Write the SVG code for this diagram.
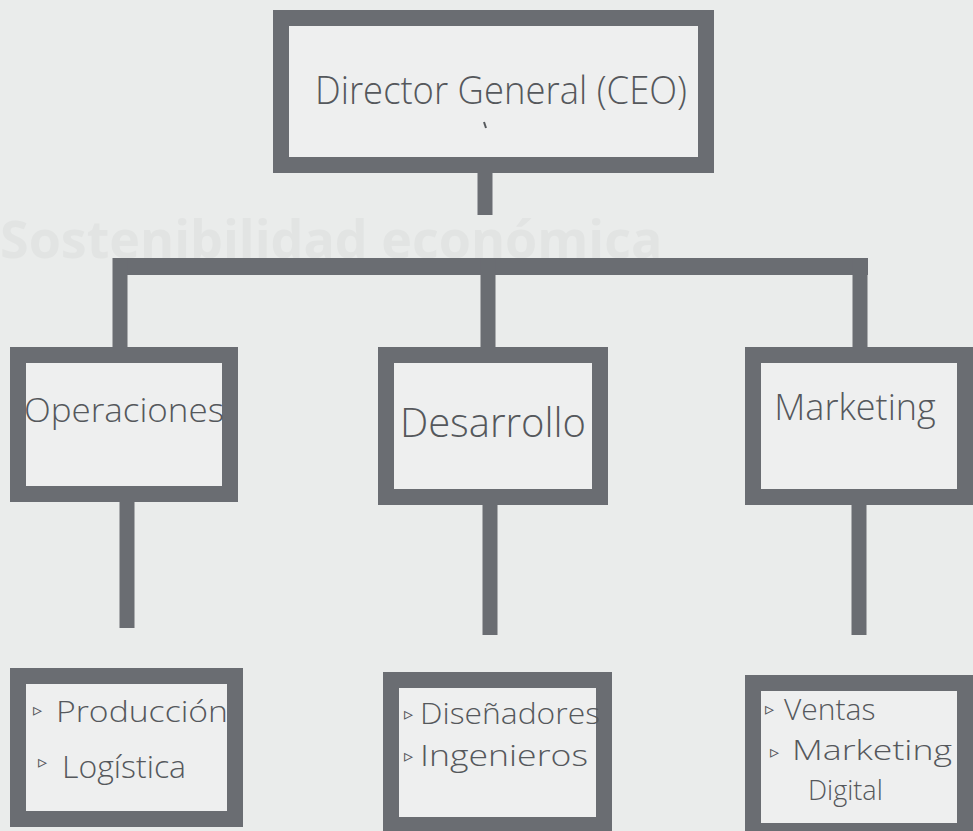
<svg xmlns="http://www.w3.org/2000/svg" width="973" height="831" viewBox="0 0 973 831">
<defs>
<style>
.box{fill:#eeefef;stroke:#6a6d72;stroke-width:16}
.con{stroke:#6a6d72;stroke-width:15;fill:none}
.bar{fill:#6a6d72}
.t{font-family:"Open Sans","DejaVu Sans",sans-serif;font-weight:300;fill:#55585c}
.b{font-family:"DejaVu Sans",sans-serif;fill:#55585c}
.ghost{font-family:"Open Sans","Liberation Sans",sans-serif;font-weight:700;fill:#e2e4e3}
</style>
</defs>
<rect x="0" y="0" width="973" height="831" fill="#eaeceb"/>
<text class="ghost" x="0" y="258" font-size="52">Sostenibilidad económica</text>
<g id="connectors">
<line class="con" x1="485" y1="173" x2="485" y2="215"/>
<rect class="bar" x="113" y="258" width="755" height="17"/>
<line class="con" x1="120" y1="258" x2="120" y2="350"/>
<line class="con" x1="488" y1="258" x2="488" y2="350"/>
<line class="con" x1="860" y1="258" x2="860" y2="350"/>
<line class="con" x1="127" y1="500" x2="127" y2="628"/>
<line class="con" x1="490" y1="503" x2="490" y2="635"/>
<line class="con" x1="859" y1="503" x2="859" y2="635"/>
</g>
<g id="ceo">
<rect class="box" x="281" y="18" width="425" height="147"/>
<text class="t" x="315" y="104" font-size="38" textLength="372" lengthAdjust="spacingAndGlyphs">Director General (CEO)</text>
<line x1="484" y1="122" x2="486" y2="128" stroke="#55585c" stroke-width="2"/>
</g>
<g id="operaciones">
<rect class="box" x="18" y="355" width="212" height="139"/>
<text class="t" x="124" y="422" font-size="33" text-anchor="middle" textLength="200" lengthAdjust="spacingAndGlyphs">Operaciones</text>
</g>
<g id="desarrollo">
<rect class="box" x="386" y="355" width="214" height="142"/>
<text class="t" x="493" y="437" font-size="40" text-anchor="middle">Desarrollo</text>
</g>
<g id="marketing">
<rect class="box" x="753" y="355" width="212" height="142"/>
<text class="t" x="855" y="420" font-size="36" text-anchor="middle">Marketing</text>
</g>
<g id="op-sub">
<rect class="box" x="18" y="676" width="217" height="143"/>
<text class="b" x="33" y="716" font-size="18">▹</text>
<text class="t" x="56" y="722" font-size="30" textLength="172" lengthAdjust="spacingAndGlyphs">Producción</text>
<text class="b" x="38" y="768" font-size="18">▹</text>
<text class="t" x="62" y="778" font-size="32">Logística</text>
</g>
<g id="des-sub">
<rect class="box" x="391" y="680" width="213" height="145"/>
<text class="b" x="404" y="720" font-size="18">▹</text>
<text class="t" x="420" y="724" font-size="29" textLength="180" lengthAdjust="spacingAndGlyphs">Diseñadores</text>
<text class="b" x="404" y="762" font-size="18">▹</text>
<text class="t" x="420" y="766" font-size="29" textLength="168" lengthAdjust="spacingAndGlyphs">Ingenieros</text>
</g>
<g id="mkt-sub">
<rect class="box" x="753" y="683" width="212" height="148"/>
<text class="b" x="765" y="715" font-size="18">▹</text>
<text class="t" x="784" y="720" font-size="30">Ventas</text>
<text class="b" x="770" y="758" font-size="18">▹</text>
<text class="t" x="792" y="760" font-size="27" textLength="160" lengthAdjust="spacingAndGlyphs">Marketing</text>
<text class="t" x="808" y="800" font-size="27">Digital</text>
</g>
</svg>
